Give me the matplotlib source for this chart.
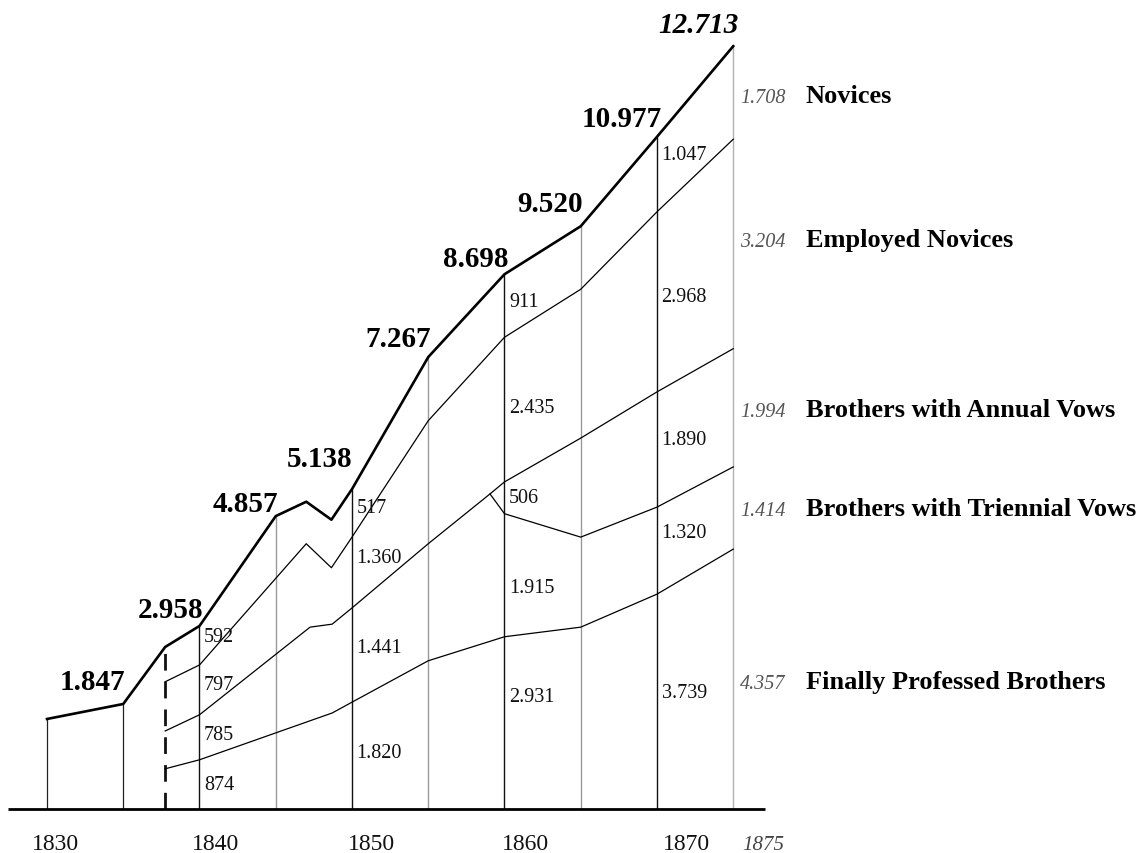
import matplotlib
matplotlib.use('Agg')
import matplotlib.pyplot as plt
import numpy as np

plt.rcParams['font.family'] = ['Liberation Serif', 'DejaVu Serif']

# upper edge of each band, in thousands of brothers
total_years = [1830, 1835, 1837.75, 1840, 1845, 1847, 1848.65, 1850, 1855, 1860, 1865, 1870, 1875]
total_top = [1.50, 1.75, 2.70, 3.05, 4.88, 5.12, 4.82, 5.33, 7.53, 8.91, 9.71, 11.20, 12.71]

employed_years = [1837.75, 1840, 1847, 1848.65, 1850, 1855, 1860, 1865, 1870, 1875]
employed_top = [2.12, 2.40, 4.42, 4.02, 4.53, 6.47, 7.86, 8.66, 9.95, 11.16]

annual_years = [1837.75, 1840, 1847.25, 1848.7, 1850, 1855, 1859.05, 1860, 1865, 1870, 1875]
annual_top = [1.30, 1.57, 3.03, 3.08, 3.35, 4.42, 5.25, 5.45, 6.18, 6.95, 7.67]

triennial_years = [1859.05, 1860, 1865, 1870, 1875]
triennial_top = [5.25, 4.92, 4.53, 5.03, 5.70]

final_years = [1837.75, 1840, 1848.7, 1850, 1855, 1860, 1865, 1870, 1875]
final_top = [0.67, 0.82, 1.60, 1.78, 2.47, 2.87, 3.03, 3.58, 4.33]

# printed totals above the top line
total_labels = ['1.847', '2.958', '4.857', '5.138', '7.267', '8.698', '9.520', '10.977', '12.713']
total_label_x = [1830.85, 1835.97, 1840.89, 1845.74, 1850.85, 1855.97, 1860.82, 1865.08, 1870.07]
total_label_y = [2.00, 3.20, 4.97, 5.72, 7.72, 9.05, 9.96, 11.38, 12.95]

# printed band sizes at the decade lines
labels_1840 = ['592', '797', '785', '874']
labels_1850 = ['517', '1.360', '1.441', '1.820']
labels_1860 = ['911', '2.435', '506', '1.915', '2.931']
labels_1870 = ['1.047', '2.968', '1.890', '1.320', '3.739']
label_y_1840 = [2.80, 2.00, 1.17, 0.33]
label_y_1850 = [4.95, 4.12, 2.62, 0.87]
label_y_1860 = [8.38, 6.62, 5.12, 3.62, 1.80]
label_y_1870 = [10.83, 8.46, 6.08, 4.53, 1.87]

# 1875 figures and band names
groups = ['Novices', 'Employed Novices', 'Brothers with Annual Vows',
          'Brothers with Triennial Vows', 'Finally Professed Brothers']
values_1875 = ['1.708', '3.204', '1.994', '1.414', '4.357']
group_y = [11.78, 9.38, 6.55, 4.90, 2.02]

tick_years = ['1830', '1840', '1850', '1860', '1870']
tick_x = [1829.0, 1839.5, 1849.7, 1859.8, 1870.4]

fig = plt.figure(figsize=(11.48, 8.54), dpi=100)
ax = fig.add_axes([0, 0, 1, 1])
ax.set_xlim(1826.918, 1902.197)
ax.set_ylim(-0.733, 13.496)
ax.axis('off')

# vertical year lines up to the total line
def top_at(year):
    return np.interp(year, total_years, total_top)

for yr in [1830, 1835]:
    ax.vlines(yr, 0, top_at(yr), color='#222222', lw=0.9)
for yr in [1840, 1850, 1860, 1870]:
    ax.vlines(yr, 0, top_at(yr), color='#111111', lw=1.0)
for yr in [1845, 1855, 1865]:
    ax.vlines(yr, 0, top_at(yr), color='#999999', lw=1.0)
ax.vlines(1875, 0, top_at(1875), color='#b0b0b0', lw=1.0)
ax.vlines(1837.75, 0, top_at(1837.75), color='#111111', lw=2.0,
          linestyles=(0, (6, 4)))

# baseline
ax.hlines(0, 1827.44, 1877.08, color='black', lw=2.0)

ax.plot(total_years, total_top, color='black', lw=1.9, solid_joinstyle='round')
ax.plot(employed_years, employed_top, color='black', lw=0.9)
ax.plot(annual_years, annual_top, color='black', lw=0.9)
ax.plot(triennial_years, triennial_top, color='black', lw=0.9)
ax.plot(final_years, final_top, color='black', lw=0.9)

for i, lab in enumerate(total_labels):
    style = 'italic' if i == len(total_labels) - 1 else 'normal'
    ax.text(total_label_x[i], total_label_y[i], lab, fontsize=21, fontweight='bold',
            fontstyle=style, ha='left', va='baseline')

for yr, labs, ys in [(1840, labels_1840, label_y_1840), (1850, labels_1850, label_y_1850),
                     (1860, labels_1860, label_y_1860), (1870, labels_1870, label_y_1870)]:
    for lab, y in zip(labs, ys):
        ax.text(yr + 0.3, y, lab, fontsize=14.5, ha='left', va='baseline', color='#111111')

for name, val, y in zip(groups, values_1875, group_y):
    ax.text(1875.45, y, val, fontsize=14.5, fontstyle='italic', color='#555555',
            ha='left', va='baseline')
    ax.text(1879.75, y, name, fontsize=19, fontweight='bold', ha='left', va='baseline')

for lab, x in zip(tick_years, tick_x):
    ax.text(x, -0.666, lab, fontsize=17, ha='left', va='baseline', color='#111111')
ax.text(1875.57, -0.666, '1875', fontsize=15, fontstyle='italic', color='#444444',
        ha='left', va='baseline')

fig.savefig('out.png', dpi=100)
